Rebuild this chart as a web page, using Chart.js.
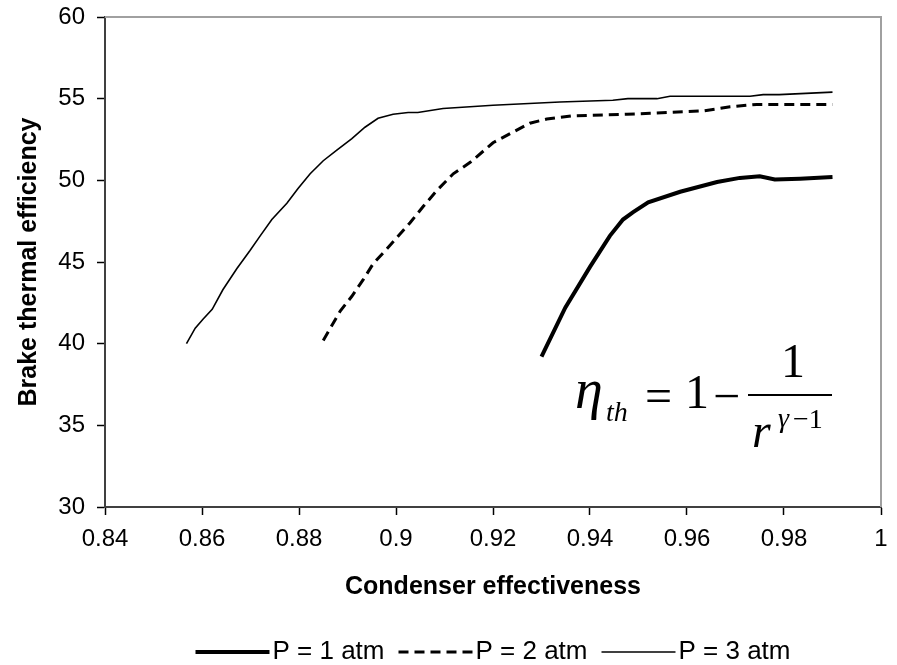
<!DOCTYPE html>
<html>
<head>
<meta charset="utf-8">
<script src="https://cdn.jsdelivr.net/npm/chart.js@4.4.1/dist/chart.umd.min.js"></script>
<style>
  html, body { margin: 0; padding: 0; background: #fff; }
  #chart { display: block; }
</style>
</head>
<body>
<canvas id="chart" width="897" height="665"></canvas>
<script>
// values
const p1X = [0.930, 0.9349, 0.940, 0.9441, 0.9468, 0.9489, 0.952, 0.9586, 0.9662, 0.9709, 0.975, 0.9781, 0.9833, 0.990];
const p1Y = [39.2, 42.2, 44.7, 46.6, 47.6, 48.05, 48.65, 49.3, 49.9, 50.15, 50.25, 50.05, 50.1, 50.2];

const p2X = [0.885, 0.8885, 0.8909, 0.8932, 0.8953, 0.8981, 0.9002, 0.9029, 0.9056, 0.9085, 0.9118, 0.9153,
             0.920, 0.9241, 0.9276, 0.9311, 0.9365, 0.9476, 0.9524, 0.9633, 0.9689, 0.9744, 0.990];
const p2Y = [40.2, 42.0, 42.9, 43.9, 44.9, 45.8, 46.5, 47.4, 48.4, 49.4, 50.4, 51.1,
             52.3, 52.95, 53.5, 53.75, 53.95, 54.05, 54.1, 54.25, 54.5, 54.65, 54.65];

const p3X = [0.8568, 0.8586, 0.8602, 0.8621, 0.8643, 0.8672, 0.8699, 0.872, 0.8744, 0.8775, 0.8798, 0.8823,
             0.885, 0.8878, 0.8909, 0.8936, 0.8963, 0.8994, 0.9025, 0.9045, 0.9097, 0.920, 0.9338, 0.9447,
             0.9478, 0.9538, 0.9565, 0.973, 0.9757, 0.979, 0.990];
const p3Y = [40.0, 40.95, 41.5, 42.1, 43.3, 44.6, 45.7, 46.6, 47.6, 48.6, 49.5, 50.4,
             51.2, 51.85, 52.55, 53.25, 53.8, 54.05, 54.15, 54.15, 54.4, 54.6, 54.8, 54.9,
             55.0, 55.0, 55.15, 55.15, 55.25, 55.25, 55.4];

const seriesLabels = ['P = 1 atm', 'P = 2 atm', 'P = 3 atm'];
const xTicks = [0.84, 0.86, 0.88, 0.9, 0.92, 0.94, 0.96, 0.98, 1];
const yTicks = [30, 35, 40, 45, 50, 55, 60];

const toPoints = (xs, ys) => xs.map((x, i) => ({ x: x, y: ys[i] }));

const SANS = "'Liberation Sans', Arial, sans-serif";
const SERIF = "'Liberation Serif', 'Times New Roman', serif";

// grey top/right frame, equation and legend
const extras = {
  id: 'extras',
  afterDraw(chart) {
    const { ctx, chartArea: a } = chart;
    ctx.save();

    ctx.strokeStyle = '#a0a0a0';
    ctx.lineWidth = 2;
    ctx.beginPath();
    ctx.moveTo(a.left, a.top);
    ctx.lineTo(a.right, a.top);
    ctx.lineTo(a.right, a.bottom);
    ctx.stroke();

    // eta_th = 1 - 1 / r^(gamma-1)
    ctx.fillStyle = '#000';
    ctx.textBaseline = 'alphabetic';
    ctx.textAlign = 'left';
    ctx.font = 'italic 56px ' + SERIF;
    ctx.fillText('\u03b7', 575, 408);
    ctx.font = 'italic 28px ' + SERIF;
    ctx.fillText('th', 606, 421);
    ctx.font = '48px ' + SERIF;
    ctx.fillText('=', 645, 412);
    ctx.fillText('1', 685, 408);
    ctx.fillText('\u2212', 713, 412);
    ctx.fillText('1', 781, 377);
    ctx.fillRect(748, 394, 84, 2);
    ctx.font = 'italic 48px ' + SERIF;
    ctx.fillText('r', 752, 447);
    ctx.font = 'italic 28px ' + SERIF;
    ctx.fillText('\u03b3', 778, 427);
    ctx.font = '28px ' + SERIF;
    ctx.fillText('\u22121', 793, 428);

    // legend, centred under the plot area
    ctx.font = '26px ' + SANS;
    ctx.textBaseline = 'middle';
    const lineLen = 74, gap = 3, spacing = 14, ly = 652;
    const widths = chart.data.datasets.map(d => ctx.measureText(d.label).width);
    const total = widths.reduce((s, w) => s + lineLen + gap + w, 0) + spacing * (widths.length - 1);
    let x = (a.left + a.right) / 2 - total / 2;
    chart.data.datasets.forEach((d, i) => {
      ctx.strokeStyle = '#000';
      ctx.lineWidth = d.borderWidth;
      ctx.setLineDash(d.borderDash || []);
      ctx.beginPath();
      ctx.moveTo(x, ly);
      ctx.lineTo(x + lineLen, ly);
      ctx.stroke();
      ctx.setLineDash([]);
      x += lineLen + gap;
      ctx.fillText(d.label, x, ly);
      x += widths[i] + spacing;
    });
    ctx.restore();
  }
};

new Chart(document.getElementById('chart').getContext('2d'), {
  type: 'line',
  data: {
    datasets: [
      { label: seriesLabels[0], data: toPoints(p1X, p1Y), borderColor: '#000', borderWidth: 4 },
      { label: seriesLabels[1], data: toPoints(p2X, p2Y), borderColor: '#000', borderWidth: 3, borderDash: [10, 6] },
      { label: seriesLabels[2], data: toPoints(p3X, p3Y), borderColor: '#000', borderWidth: 1.6 }
    ]
  },
  options: {
    responsive: false,
    animation: false,
    elements: {
      point: { radius: 0 },
      line: { tension: 0, fill: false, borderCapStyle: 'butt' }
    },
    layout: { padding: { top: 17, right: 16, bottom: 63, left: 0 } },
    plugins: {
      legend: { display: false },
      tooltip: { enabled: false }
    },
    scales: {
      x: {
        type: 'linear',
        min: 0.84,
        max: 1,
        afterBuildTicks: scale => { scale.ticks = xTicks.map(v => ({ value: v })); },
        afterFit: scale => { scale.height = 95; scale.paddingLeft = 0; scale.paddingRight = 0; },
        grid: { drawOnChartArea: false, color: '#000', tickLength: 8, tickWidth: 1.5 },
        border: { color: '#404040', width: 2 },
        ticks: {
          padding: 10,
          color: '#000',
          font: { family: SANS, size: 24 },
          callback: v => String(parseFloat(v.toFixed(2)))
        },
        title: {
          display: true,
          text: 'Condenser effectiveness',
          color: '#000',
          font: { family: SANS, size: 25, weight: 'bold' },
          padding: { top: 0, bottom: 0 }
        }
      },
      y: {
        min: 30,
        max: 60,
        afterBuildTicks: scale => { scale.ticks = yTicks.map(v => ({ value: v })); },
        afterFit: scale => { scale.width = 105; scale.paddingTop = 0; scale.paddingBottom = 0; },
        grid: { drawOnChartArea: false, color: '#000', tickLength: 8, tickWidth: 1.5 },
        border: { color: '#404040', width: 2 },
        ticks: {
          padding: 12,
          color: '#000',
          font: { family: SANS, size: 24 }
        },
        title: {
          display: true,
          text: 'Brake thermal efficiency',
          color: '#000',
          font: { family: SANS, size: 25, weight: 'bold' },
          padding: { top: 14, bottom: 0 }
        }
      }
    }
  },
  plugins: [extras]
});
</script>
</body>
</html>
